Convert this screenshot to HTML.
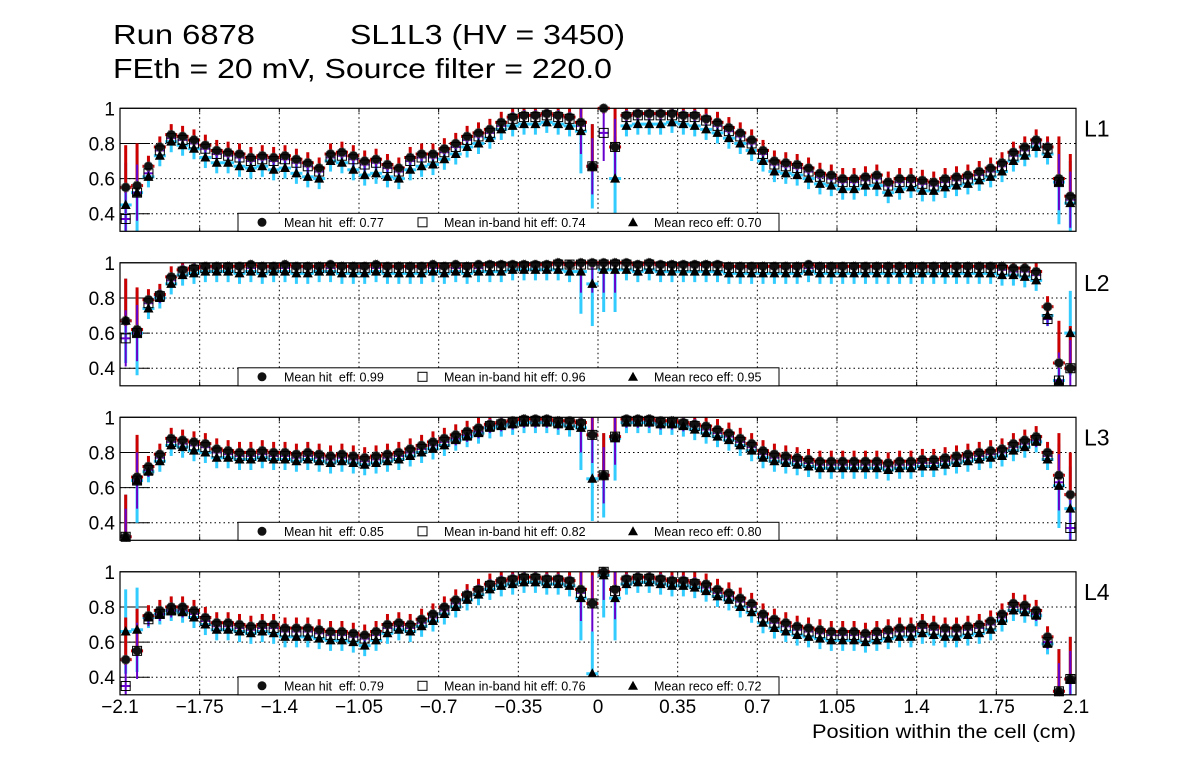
<!DOCTYPE html>
<html><head><meta charset="utf-8"><style>
body{margin:0;background:#fff;}
svg{display:block;font-family:"Liberation Sans",sans-serif;}
</style></head><body>
<svg id="c" width="1196" height="772" viewBox="0 0 1196 772">
<text x="113" y="44" font-size="28" textLength="142" lengthAdjust="spacingAndGlyphs">Run 6878</text>
<text x="350" y="44" font-size="28" textLength="275" lengthAdjust="spacingAndGlyphs">SL1L3 (HV = 3450)</text>
<text x="113" y="78" font-size="28" textLength="499" lengthAdjust="spacingAndGlyphs">FEth = 20 mV, Source filter = 220.0</text>
<text x="812" y="738" font-size="19" textLength="264" lengthAdjust="spacingAndGlyphs">Position within the cell (cm)</text>
</svg>
<script>
const layers=["L1","L2","L3","L4"];
const meanHit=["0.77","0.99","0.85","0.79"];
const meanInband=["0.74","0.96","0.82","0.76"];
const meanReco=["0.70","0.95","0.80","0.72"];
const xTicks=[-2.1,-1.75,-1.4,-1.05,-0.7,-0.35,0,0.35,0.7,1.05,1.4,1.75,2.1];
const xTickLabels=["\u22122.1","\u22121.75","\u22121.4","\u22121.05","\u22120.7","\u22120.35","0","0.35","0.7","1.05","1.4","1.75","2.1"];
const yTicks=[0.4,0.6,0.8,1];
const yTickLabels=["0.4","0.6","0.8","1"];
const hit1=[0.55,0.56,0.67,0.78,0.85,0.84,0.82,0.79,0.76,0.75,0.74,0.72,0.73,0.72,0.73,0.71,0.69,0.66,0.74,0.75,0.73,0.70,0.71,0.68,0.66,0.72,0.74,0.74,0.77,0.80,0.84,0.86,0.88,0.92,0.95,0.96,0.96,0.97,0.96,0.95,0.92,0.67,1.00,0.78,0.96,0.97,0.97,0.97,0.97,0.96,0.96,0.94,0.92,0.89,0.86,0.82,0.76,0.70,0.69,0.68,0.66,0.63,0.62,0.60,0.60,0.61,0.62,0.58,0.60,0.60,0.59,0.58,0.60,0.61,0.62,0.64,0.66,0.69,0.75,0.78,0.82,0.78,0.60,0.50];
const inb1=[0.37,0.52,0.63,0.76,0.83,0.82,0.80,0.77,0.74,0.73,0.72,0.70,0.71,0.70,0.71,0.69,0.67,0.64,0.72,0.73,0.71,0.68,0.69,0.66,0.64,0.70,0.72,0.72,0.75,0.78,0.82,0.84,0.86,0.90,0.94,0.95,0.95,0.96,0.95,0.94,0.90,0.67,0.86,0.78,0.95,0.96,0.96,0.96,0.96,0.95,0.95,0.93,0.90,0.87,0.84,0.80,0.74,0.68,0.67,0.66,0.64,0.61,0.60,0.58,0.58,0.59,0.60,0.56,0.58,0.58,0.57,0.56,0.58,0.59,0.60,0.62,0.64,0.67,0.73,0.76,0.80,0.77,0.58,0.48];
const rec1=[0.45,0.52,0.61,0.73,0.81,0.79,0.77,0.72,0.69,0.69,0.67,0.66,0.67,0.65,0.66,0.63,0.61,0.60,0.70,0.69,0.65,0.62,0.63,0.61,0.60,0.65,0.67,0.68,0.71,0.74,0.78,0.80,0.83,0.88,0.90,0.91,0.91,0.92,0.91,0.90,0.87,0.67,null,0.60,0.90,0.91,0.91,0.91,0.92,0.91,0.90,0.88,0.86,0.83,0.80,0.76,0.70,0.64,0.63,0.62,0.60,0.57,0.56,0.54,0.54,0.56,0.56,0.52,0.54,0.55,0.53,0.53,0.55,0.56,0.57,0.59,0.61,0.64,0.70,0.73,0.78,0.74,0.58,0.46];
const hit2=[0.67,0.62,0.79,0.82,0.92,0.96,0.97,0.98,0.98,0.98,0.98,0.99,0.98,0.98,0.99,0.98,0.98,0.98,0.99,0.98,0.98,0.98,0.99,0.98,0.98,0.98,0.98,0.99,0.98,0.99,0.98,0.99,0.99,0.99,0.99,0.99,0.99,0.99,1.00,0.99,1.00,1.00,1.00,1.00,1.00,0.99,1.00,0.99,0.99,0.99,0.99,0.99,0.99,0.98,0.98,0.98,0.98,0.98,0.98,0.98,0.99,0.98,0.98,0.98,0.98,0.98,0.98,0.98,0.98,0.98,0.98,0.98,0.98,0.98,0.98,0.98,0.98,0.98,0.97,0.97,0.95,0.75,0.43,0.40];
const inb2=[0.57,0.60,0.77,0.81,0.90,0.95,0.96,0.97,0.97,0.97,0.97,0.97,0.97,0.97,0.97,0.97,0.97,0.97,0.97,0.97,0.97,0.97,0.97,0.97,0.97,0.97,0.97,0.97,0.97,0.97,0.97,0.97,0.98,0.98,0.98,0.98,0.98,0.98,0.99,0.99,0.99,0.99,0.99,0.99,0.99,0.98,0.99,0.98,0.98,0.98,0.98,0.98,0.98,0.97,0.97,0.97,0.97,0.97,0.97,0.97,0.97,0.97,0.97,0.97,0.97,0.97,0.97,0.97,0.97,0.97,0.97,0.97,0.97,0.97,0.97,0.97,0.97,0.96,0.95,0.95,0.93,0.68,0.33,0.40];
const rec2=[0.67,0.60,0.74,0.80,0.88,0.93,0.94,0.95,0.95,0.95,0.94,0.95,0.94,0.95,0.95,0.94,0.94,0.95,0.95,0.94,0.94,0.94,0.95,0.94,0.94,0.94,0.94,0.95,0.94,0.95,0.94,0.95,0.95,0.95,0.96,0.96,0.96,0.96,0.96,0.95,0.95,0.88,0.96,0.96,0.96,0.95,0.96,0.95,0.95,0.95,0.95,0.95,0.95,0.94,0.94,0.94,0.94,0.94,0.94,0.94,0.95,0.94,0.94,0.94,0.94,0.94,0.94,0.94,0.94,0.94,0.94,0.94,0.94,0.94,0.94,0.94,0.94,0.93,0.93,0.92,0.90,0.70,0.33,0.60];
const hit3=[0.32,0.66,0.72,0.79,0.88,0.87,0.86,0.85,0.82,0.81,0.80,0.80,0.81,0.80,0.80,0.79,0.80,0.79,0.78,0.79,0.78,0.77,0.78,0.79,0.80,0.82,0.84,0.86,0.88,0.90,0.92,0.94,0.96,0.97,0.98,0.99,0.99,0.99,0.98,0.98,0.97,0.90,0.67,0.89,0.99,0.99,0.99,0.98,0.98,0.97,0.96,0.95,0.93,0.91,0.88,0.85,0.81,0.79,0.78,0.77,0.76,0.75,0.75,0.75,0.75,0.75,0.75,0.74,0.75,0.75,0.76,0.76,0.77,0.78,0.79,0.80,0.81,0.82,0.85,0.87,0.89,0.80,0.67,0.56];
const inb3=[0.32,0.64,0.70,0.77,0.86,0.85,0.84,0.83,0.80,0.79,0.78,0.78,0.79,0.78,0.78,0.77,0.78,0.77,0.76,0.77,0.76,0.75,0.76,0.77,0.78,0.80,0.82,0.84,0.86,0.88,0.90,0.92,0.95,0.96,0.97,0.98,0.98,0.98,0.97,0.97,0.96,0.90,0.67,0.89,0.98,0.98,0.98,0.97,0.97,0.96,0.95,0.93,0.91,0.89,0.86,0.83,0.79,0.77,0.76,0.75,0.74,0.73,0.73,0.73,0.73,0.73,0.73,0.72,0.73,0.73,0.74,0.74,0.75,0.76,0.77,0.78,0.79,0.80,0.83,0.85,0.87,0.78,0.63,0.37];
const rec3=[0.32,0.64,0.69,0.75,0.84,0.83,0.81,0.80,0.77,0.77,0.76,0.76,0.77,0.76,0.76,0.75,0.76,0.75,0.74,0.75,0.74,0.73,0.74,0.75,0.76,0.78,0.80,0.82,0.84,0.87,0.89,0.91,0.94,0.95,0.96,0.97,0.97,0.97,0.96,0.95,0.94,0.65,0.67,0.88,0.97,0.97,0.97,0.96,0.96,0.95,0.93,0.91,0.89,0.87,0.84,0.81,0.77,0.75,0.74,0.73,0.72,0.71,0.71,0.71,0.71,0.71,0.71,0.70,0.71,0.71,0.72,0.72,0.73,0.74,0.75,0.76,0.77,0.78,0.81,0.83,0.86,0.76,0.61,0.48];
const hit4=[0.50,0.55,0.75,0.78,0.80,0.80,0.78,0.74,0.71,0.71,0.70,0.69,0.70,0.70,0.68,0.68,0.68,0.67,0.66,0.66,0.65,0.64,0.66,0.70,0.71,0.70,0.73,0.76,0.80,0.84,0.87,0.90,0.93,0.95,0.96,0.97,0.97,0.96,0.96,0.95,0.90,0.82,1.00,0.90,0.96,0.97,0.97,0.96,0.95,0.95,0.94,0.93,0.90,0.88,0.85,0.82,0.76,0.73,0.71,0.69,0.68,0.67,0.66,0.66,0.66,0.65,0.66,0.67,0.68,0.68,0.70,0.69,0.68,0.68,0.69,0.70,0.72,0.76,0.82,0.81,0.78,0.63,0.32,0.39];
const inb4=[0.35,0.55,0.73,0.76,0.78,0.78,0.76,0.72,0.69,0.69,0.68,0.67,0.68,0.68,0.66,0.66,0.66,0.65,0.64,0.64,0.63,0.62,0.64,0.68,0.69,0.68,0.71,0.74,0.78,0.82,0.86,0.89,0.92,0.94,0.95,0.96,0.96,0.95,0.95,0.94,0.88,0.82,1.00,0.89,0.95,0.96,0.96,0.95,0.94,0.94,0.93,0.91,0.88,0.86,0.83,0.80,0.74,0.71,0.69,0.67,0.66,0.65,0.64,0.64,0.64,0.63,0.64,0.65,0.66,0.66,0.68,0.67,0.66,0.66,0.67,0.68,0.70,0.74,0.80,0.79,0.76,0.60,0.32,0.39];
const rec4=[0.66,0.67,0.74,0.76,0.78,0.77,0.74,0.70,0.67,0.67,0.66,0.65,0.66,0.65,0.63,0.63,0.63,0.62,0.61,0.61,0.60,0.58,0.61,0.65,0.67,0.66,0.69,0.72,0.76,0.80,0.84,0.87,0.90,0.92,0.93,0.94,0.94,0.93,0.93,0.92,0.85,0.42,0.98,0.85,0.93,0.94,0.94,0.93,0.92,0.92,0.91,0.89,0.86,0.84,0.80,0.77,0.71,0.68,0.66,0.64,0.63,0.62,0.61,0.61,0.61,0.60,0.61,0.62,0.63,0.63,0.65,0.64,0.63,0.63,0.64,0.65,0.67,0.72,0.78,0.77,0.75,0.59,0.32,0.39];
const hitAll=[hit1,hit2,hit3,hit4], inbAll=[inb1,inb2,inb3,inb4], recAll=[rec1,rec2,rec3,rec4];

const NS="http://www.w3.org/2000/svg";
const svg=document.getElementById('c');
function mk(tag,attrs,parent){const e=document.createElementNS(NS,tag);for(const k in attrs)e.setAttribute(k,attrs[k]);(parent||svg).appendChild(e);return e;}
const X0=120,X1=1076,XMIN=-2.1,XMAX=2.1;
const tops=[108.3,262.8,417.3,571.8],H=123,YMIN=0.3,YMAX=1.0;
const xs=v=>X0+(v-XMIN)/(XMAX-XMIN)*(X1-X0);
const nb=84,bw=(XMAX-XMIN)/nb;
const clampY=v=>Math.max(YMIN,Math.min(1,v));
function errScale(i){ if(i<=1||i>=82) return 4; if(i>=40&&i<=43) return 4; return 1; }
tops.forEach((T,p)=>{
  const ys=v=>T+H-(v-YMIN)/(YMAX-YMIN)*H;
  const g=mk('g',{});
  
  
  xTicks.slice(1,-1).forEach(t=>{const l=mk('line',{x1:xs(t),x2:xs(t),y1:T,y2:T+H,stroke:'#000','stroke-width':1,'stroke-dasharray':'1.5,3'},g);});
  yTicks.slice(0,3).forEach(t=>{const l=mk('line',{x1:X0,x2:X1,y1:ys(t),y2:ys(t),stroke:'#000','stroke-width':1,'stroke-dasharray':'1.5,3'},g);});
  yTicks.forEach((t,i)=>{const l=mk('line',{x1:X0,x2:X0+30,y1:ys(t),y2:ys(t),stroke:'#000','stroke-width':1},g);
    const tx=mk('text',{x:X0-5,y:ys(t)+7,'font-size':19,'text-anchor':'end'},g);tx.textContent=yTickLabels[i];});
  xTicks.forEach(t=>{const l=mk('line',{x1:xs(t),x2:xs(t),y1:T+H,y2:T+H-4,stroke:'#000','stroke-width':1},g);mk('line',{x1:xs(t),x2:xs(t),y1:T,y2:T+4,stroke:'#000'},g);});
  const h=hitAll[p],q=inbAll[p],r=recAll[p];
  for(let i=0;i<nb;i++){
    const cx=xs(XMIN+(i+0.5)*bw), k=errScale(i);
    if(r[i]!=null){const e=mk('line',{x1:cx,x2:cx,y1:ys(clampY(r[i]+0.06*k)),y2:ys(clampY(r[i]-0.06*k)),stroke:'#33ccff','stroke-width':3},g);
      mk('line',{x1:cx-6,x2:cx+6,y1:ys(r[i]),y2:ys(r[i]),stroke:'#33ccff','stroke-width':3},g);}
    const e2=mk('line',{x1:cx,x2:cx,y1:ys(clampY(h[i]+0.06*k)),y2:ys(clampY(h[i]-0.03)),stroke:'#cc0000','stroke-width':3},g);
    mk('line',{x1:cx-6,x2:cx+6,y1:ys(h[i]),y2:ys(h[i]),stroke:'#cc0000','stroke-width':3},g);
    const e3=mk('line',{x1:cx,x2:cx,y1:ys(clampY(q[i]+0.04*k)),y2:ys(clampY(q[i]-0.04*k)),stroke:'#6600cc','stroke-width':2},g);
    mk('line',{x1:cx-5,x2:cx+5,y1:ys(q[i]),y2:ys(q[i]),stroke:'#6600cc','stroke-width':2},g);
    const c=mk('circle',{cx:cx,cy:ys(h[i]),r:4.5,fill:'#111',stroke:'#555','stroke-width':1,'stroke-dasharray':'1,1'},g);
    const s=mk('rect',{x:cx-4.5,y:ys(q[i])-4.5,width:9,height:9,fill:'none',stroke:'#000','stroke-width':1},g);
    if(r[i]!=null){const yy=ys(r[i]);const t=mk('polygon',{points:`${cx},${yy-5.5} ${cx-5},${yy+4} ${cx+5},${yy+4}`,fill:'#000'},g);}
  }
  const f=mk('rect',{x:X0,y:T,width:X1-X0,height:H,fill:'none',stroke:'#000','stroke-width':1.2},g);
  const lg=mk('g',{},g);
  mk('rect',{x:238,y:T+105,width:541,height:H-105,fill:'#fff',stroke:'#000','stroke-width':1},lg);
  const ly=T+114;
  mk('circle',{cx:262,cy:ly,r:4.5,fill:'#111'},lg);
  mk('rect',{x:418,y:ly-4.5,width:9,height:9,fill:'none',stroke:'#000'},lg);
  mk('polygon',{points:`633,${ly-5} 628,${ly+4} 638,${ly+4}`,fill:'#000'},lg);
  [[284,'Mean hit  eff: '+meanHit[p],'legend-entry-hit'],[444,'Mean in-band hit eff: '+meanInband[p],'legend-entry-inband'],[654,'Mean reco eff: '+meanReco[p],'legend-entry-reco']].forEach(a=>{
    const t=mk('text',{x:a[0],y:ly+4.5,'font-size':12.5},lg);t.style.whiteSpace='pre';t.textContent=a[1];});
  const lb=mk('text',{x:1084,y:T+28,'font-size':23},g);lb.textContent=layers[p];
});
xTicks.forEach((t,i)=>{const tx=mk('text',{x:xs(t),y:713,'font-size':19,'text-anchor':'middle'});tx.textContent=xTickLabels[i];});
</script>
</body></html>
